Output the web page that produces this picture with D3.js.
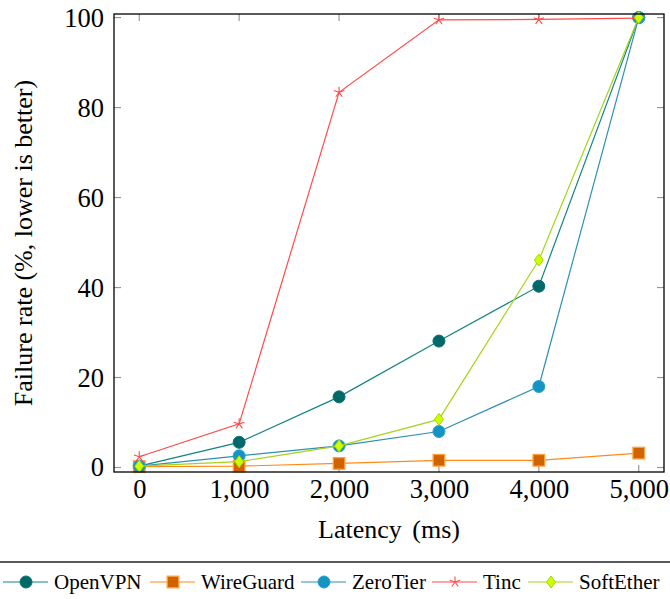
<!DOCTYPE html>
<html lang="en">
<head>
  <meta charset="UTF-8">
  <title>Failure rate vs latency</title>
  <script src="https://d3js.org/d3.v7.min.js"></script>
  <style>
    body { margin: 0; background: #fff; }
    svg { display: block; }
  </style>
</head>
<body>
  <svg id="chart" width="670" height="599"></svg>
  <script>
    const latencies = [0, 1000, 2000, 3000, 4000, 5000];
    const seriesNames = ['OpenVPN', 'WireGuard', 'ZeroTier', 'Tinc', 'SoftEther'];
    const openvpn   = [0.3, 5.6, 15.7, 28.1, 40.3, 100];
    const wireguard = [0.2, 0.3, 0.9, 1.6, 1.6, 3.2];
    const zerotier  = [0.3, 2.6, 4.8, 8.0, 18.0, 100];
    const tinc      = [2.4, 9.7, 83.4, 99.5, 99.6, 99.9];
    const softether = [0.3, 1.3, 4.8, 10.7, 46.1, 100];
    const xTicks = [0, 1000, 2000, 3000, 4000, 5000];
    const yTicks = [0, 20, 40, 60, 80, 100];

    const FONT = '"Liberation Serif", "Times New Roman", serif';

    const styles = {
      OpenVPN:   { line: '#138383', fill: '#006868', stroke: '#0a7272', shape: 'circle' },
      WireGuard: { line: '#ff8a1a', fill: '#d06200', stroke: '#ffa040', shape: 'square' },
      ZeroTier:  { line: '#2f8fb2', fill: '#1394c2', stroke: '#2aa0cc', shape: 'circle' },
      Tinc:      { line: '#ff4b4b', fill: 'none',    stroke: '#ff4b4b', shape: 'star' },
      SoftEther: { line: '#a6d41c', fill: '#ccff00', stroke: '#a8d400', shape: 'diamond' }
    };
    const values = [openvpn, wireguard, zerotier, tinc, softether];

    const svg = d3.select('#chart');
    const mLeft = 114, mRight = 664, mTop = 14, mBottom = 472;

    const x = d3.scaleLinear().domain([-253, 5253]).range([mLeft, mRight]);
    const y = d3.scaleLinear().domain([-1.0, 100.8]).range([mBottom, mTop]);

    const xAxis = svg.append('g').attr('transform', `translate(0,${mBottom})`)
      .call(d3.axisBottom(x).tickValues(xTicks).tickSize(0).tickPadding(7).tickFormat(d3.format(',')));
    const yAxis = svg.append('g').attr('transform', `translate(${mLeft},0)`)
      .call(d3.axisLeft(y).tickValues(yTicks).tickSize(0).tickPadding(10));
    [xAxis, yAxis].forEach(a => {
      a.select('.domain').remove();
      a.selectAll('text').style('font-family', FONT).style('font-size', '26.5px').attr('fill', '#000');
    });

    // ticks inside the frame, mirrored on the opposite side
    const tickG = svg.append('g').attr('stroke', '#999').attr('stroke-width', 1.2);
    xTicks.forEach(t => {
      tickG.append('line').attr('x1', x(t)).attr('x2', x(t)).attr('y1', mBottom).attr('y2', mBottom - 7);
      tickG.append('line').attr('x1', x(t)).attr('x2', x(t)).attr('y1', mTop).attr('y2', mTop + 7);
    });
    yTicks.forEach(t => {
      tickG.append('line').attr('x1', mLeft).attr('x2', mLeft + 7).attr('y1', y(t)).attr('y2', y(t));
      tickG.append('line').attr('x1', mRight).attr('x2', mRight - 7).attr('y1', y(t)).attr('y2', y(t));
    });

    const line = d3.line().x((d, i) => x(latencies[i])).y(d => y(d));

    function marker(g, shape, st) {
      if (shape === 'circle') {
        g.append('circle').attr('r', 6).attr('fill', st.fill).attr('stroke', st.stroke).attr('stroke-width', 1);
      } else if (shape === 'square') {
        g.append('rect').attr('x', -5.8).attr('y', -5.8).attr('width', 11.6).attr('height', 11.6)
          .attr('fill', st.fill).attr('stroke', st.stroke).attr('stroke-width', 1.3);
      } else if (shape === 'diamond') {
        g.append('path').attr('d', 'M0,-6 L4.5,0 L0,6 L-4.5,0 Z')
          .attr('fill', st.fill).attr('stroke', st.stroke).attr('stroke-width', 1);
      } else if (shape === 'star') {
        const r = 5.5;
        let d = '';
        for (let k = 0; k < 5; k++) {
          const a = -Math.PI / 2 + k * 2 * Math.PI / 5;
          d += `M0,0L${r * Math.cos(a)},${r * Math.sin(a)}`;
        }
        g.append('path').attr('d', d).attr('stroke', st.stroke).attr('stroke-width', 1.1).attr('fill', 'none');
      }
    }

    seriesNames.forEach((name, si) => {
      const st = styles[name];
      svg.append('path').datum(values[si]).attr('d', line)
        .attr('fill', 'none').attr('stroke', st.line).attr('stroke-width', 1.2);
      values[si].forEach((v, i) => {
        const g = svg.append('g').attr('transform', `translate(${x(latencies[i])},${y(v)})`);
        marker(g, st.shape, st);
      });
    });

    // frame
    svg.append('rect').attr('x', mLeft).attr('y', mTop).attr('width', mRight - mLeft).attr('height', mBottom - mTop)
      .attr('fill', 'none').attr('stroke', '#000').attr('stroke-width', 1.3);

    const xTitle = svg.append('text').attr('x', (mLeft + mRight) / 2).attr('y', 538).attr('text-anchor', 'middle')
      .style('font-family', FONT).style('font-size', '26px');
    xTitle.append('tspan').text('Latency');
    xTitle.append('tspan').attr('dx', 4).text(' (ms)');
    svg.append('text').attr('transform', `translate(32,${(mTop + mBottom) / 2}) rotate(-90)`)
      .attr('text-anchor', 'middle').style('font-family', FONT).style('font-size', '26px')
      .text('Failure rate (%, lower is better)');

    // legend
    svg.append('line').attr('x1', 0).attr('x2', 670).attr('y1', 562).attr('y2', 562)
      .attr('stroke', '#222').attr('stroke-width', 1.3);
    const legendX = [3, 150, 301, 432, 528];
    seriesNames.forEach((name, si) => {
      const st = styles[name];
      const g = svg.append('g').attr('transform', `translate(${legendX[si]},582)`);
      g.append('line').attr('x1', 0).attr('x2', 45).attr('stroke', st.line).attr('stroke-width', 1.2);
      const m = g.append('g').attr('transform', 'translate(23,0)');
      marker(m, st.shape, st);
      g.append('text').attr('x', 51).attr('y', 7)
        .style('font-family', FONT).style('font-size', '21px').text(name);
    });
  </script>
</body>
</html>
